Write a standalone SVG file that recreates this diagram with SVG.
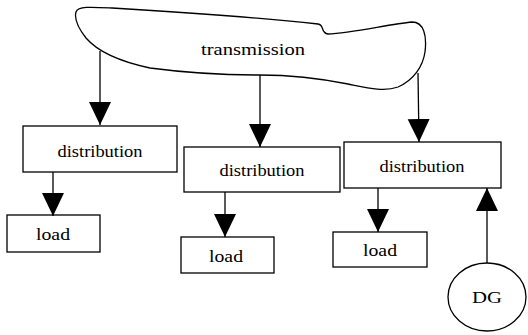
<svg xmlns="http://www.w3.org/2000/svg" width="528" height="335" viewBox="0 0 528 335">
  <style>
    .box { fill: #fff; stroke: #000; stroke-width: 1.3; }
    .lbl { font-family: "Liberation Serif", "DejaVu Serif", serif; font-size: 16px; fill: #000; text-anchor: middle; dominant-baseline: central; }
    .wire { stroke: #000; stroke-width: 1.3; fill: none; marker-end: url(#head); }
  </style>
  <defs>
    <marker id="head" markerUnits="userSpaceOnUse" markerWidth="24" markerHeight="24" refX="23" refY="11" orient="auto">
      <path d="M0,0 L23,11 L0,22 Z" fill="#000"/>
    </marker>
  </defs>
  <rect width="528" height="335" fill="#fff"/>

  <g id="transmission">
    <path class="box" d="M76,12 C78,6 92,7 112,8 C180,12 262,18 318,24 C325,25 320,33 328,34 C352,33 390,24 412,22 C424,22 427,36 425,52 C423,66 414,80 398,87 C384,92 368,88 348,84 C318,78 290,75 260,75 C220,75 180,72 150,68 C122,62 98,52 86,38 C79,29 74,19 76,12 Z"/>
    <text class="lbl" x="253" y="49" textLength="104" lengthAdjust="spacingAndGlyphs">transmission</text>
  </g>

  <g id="dist1">
    <rect class="box" x="23" y="126" width="154" height="46"/>
    <text class="lbl" x="100" y="151" textLength="85" lengthAdjust="spacingAndGlyphs">distribution</text>
  </g>
  <g id="dist2">
    <rect class="box" x="184" y="147" width="156" height="45"/>
    <text class="lbl" x="262" y="170" textLength="85" lengthAdjust="spacingAndGlyphs">distribution</text>
  </g>
  <g id="dist3">
    <rect class="box" x="344" y="142" width="157" height="46"/>
    <text class="lbl" x="422" y="166" textLength="85" lengthAdjust="spacingAndGlyphs">distribution</text>
  </g>

  <g id="load1">
    <rect class="box" x="7" y="215" width="93" height="37"/>
    <text class="lbl" x="53" y="234" textLength="34" lengthAdjust="spacingAndGlyphs">load</text>
  </g>
  <g id="load2">
    <rect class="box" x="181" y="237" width="93" height="36"/>
    <text class="lbl" x="226" y="256" textLength="34" lengthAdjust="spacingAndGlyphs">load</text>
  </g>
  <g id="load3">
    <rect class="box" x="333" y="232" width="94" height="35"/>
    <text class="lbl" x="380" y="250" textLength="34" lengthAdjust="spacingAndGlyphs">load</text>
  </g>

  <g id="dg">
    <ellipse class="box" cx="487" cy="297" rx="39" ry="34"/>
    <text class="lbl" x="487" y="297" textLength="30" lengthAdjust="spacingAndGlyphs">DG</text>
  </g>

  <g id="connectors">
    <line class="wire" x1="100" y1="51" x2="100" y2="125"/>
    <line class="wire" x1="260" y1="75" x2="260" y2="147"/>
    <line class="wire" x1="418" y1="73" x2="419" y2="142"/>
    <line class="wire" x1="53" y1="172" x2="53" y2="216"/>
    <line class="wire" x1="225" y1="192" x2="225" y2="237"/>
    <line class="wire" x1="378" y1="188" x2="378" y2="232"/>
    <line class="wire" x1="487" y1="263" x2="487" y2="188"/>
  </g>
</svg>
